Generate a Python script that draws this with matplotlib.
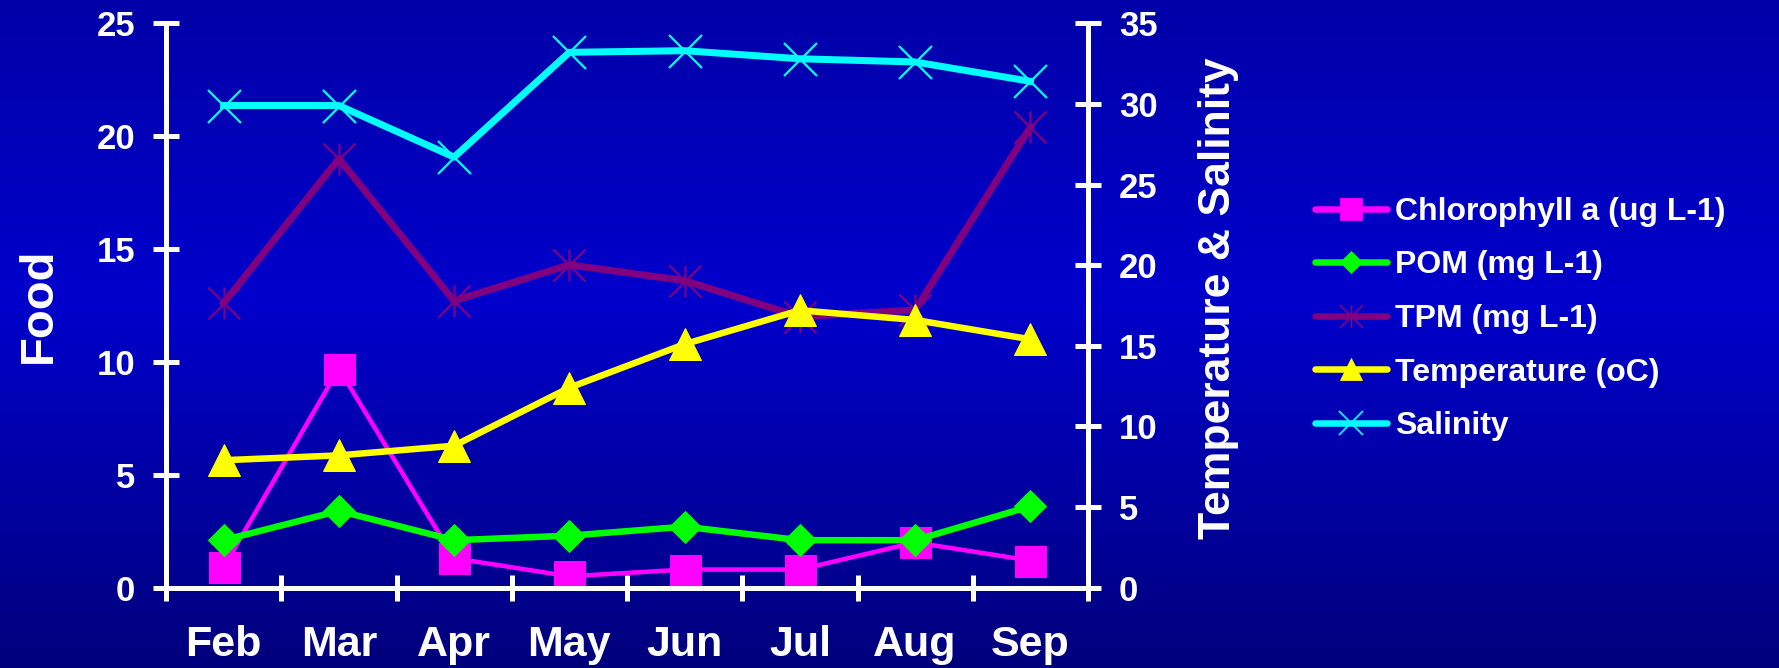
import numpy as np
import matplotlib
matplotlib.use("Agg")
import matplotlib.pyplot as plt
from matplotlib.path import Path
from matplotlib.lines import Line2D
from matplotlib.colors import LinearSegmentedColormap

plt.rcParams['font.family'] = ['Liberation Sans', 'DejaVu Sans']
plt.rcParams['font.weight'] = 'bold'

# ---- data -------------------------------------------------------------
months = ['Feb', 'Mar', 'Apr', 'May', 'Jun', 'Jul', 'Aug', 'Sep']
chlorophyll = [0.9, 9.7, 1.3, 0.5, 0.8, 0.8, 2.0, 1.2]      # ug L-1
pom = [2.1, 3.4, 2.1, 2.3, 2.7, 2.1, 2.1, 3.6]              # mg L-1
tpm = [12.6, 19.0, 12.7, 14.3, 13.6, 12.0, 12.3, 20.4]      # mg L-1
temperature = [7.9, 8.2, 8.8, 12.4, 15.1, 17.2, 16.6, 15.4]  # oC
salinity = [29.9, 29.9, 26.7, 33.2, 33.3, 32.8, 32.6, 31.4]

food_ticks = [0, 5, 10, 15, 20, 25]
env_ticks = [0, 5, 10, 15, 20, 25, 30, 35]

# ---- figure with a vertical blue gradient -------------------------------
W, H, DPI = 1779, 668, 100
fig = plt.figure(figsize=(W / DPI, H / DPI), dpi=DPI)
bg = fig.add_axes([0, 0, 1, 1], zorder=-10)
grad_cmap = LinearSegmentedColormap.from_list(
    'bg', [(0.0, '#0000a8'), (0.45, '#0000cc'), (1.0, '#00007c')])
bg.imshow(np.linspace(0, 1, 256).reshape(-1, 1), aspect='auto',
          cmap=grad_cmap, extent=[0, 1, 0, 1], origin='upper')
bg.set_axis_off()

left, right = 166 / W, 1088 / W
bottom, top = 1 - 587.6 / H, 1 - 23.3 / H
ax = fig.add_axes([left, bottom, right - left, top - bottom])
ax.set_facecolor('none')
ax2 = ax.twinx()

x = np.arange(len(months))

# Excel-style star marker: an x crossed by a vertical bar
star = Path([(-0.5, -0.5), (0.5, 0.5), (-0.5, 0.5), (0.5, -0.5), (0, -0.5), (0, 0.5)],
            [Path.MOVETO, Path.LINETO, Path.MOVETO, Path.LINETO, Path.MOVETO, Path.LINETO])

px = 72 / DPI  # points per pixel

# (label, colour, line width px, marker, marker size px, marker edge width px)
styles = [
    ('Chlorophyll a (ug L-1)', '#ff00ff', 4.5, 's', 31, 1),
    ('POM (mg L-1)', '#00ff00', 6.5, 'D', 22.5, 1),
    ('TPM (mg L-1)', '#800080', 7, star, 32, 2.2),
    ('Temperature (oC)', '#ffff00', 6.5, '^', 32, 1),
    ('Salinity', '#00ffff', 7, 'x', 33, 2.2),
]
series = [(ax, chlorophyll), (ax, pom), (ax, tpm), (ax2, temperature), (ax2, salinity)]

handles = []
for (label, col, lw, mk, ms, mew), (a, vals) in zip(styles, series):
    a.plot(x, vals, color=col, lw=lw * px, marker=mk, ms=ms * px,
           mec=col, mfc=col, mew=mew * px, label=label)
    handles.append(Line2D([], [], color=col, lw=6.5 * px, marker=mk,
                          ms=ms * 0.71 * px, mec=col, mfc=col,
                          mew=mew * 0.8 * px, solid_capstyle='round',
                          label=label))

ax.set_xlim(-0.5, len(months) - 0.5)
ax.set_ylim(0, 25)
ax2.set_ylim(0, 35)
ax.set_yticks(food_ticks)
ax2.set_yticks(env_ticks)

# month labels sit between boundary tick marks
ax.set_xticks(np.arange(-0.5, len(months)), labels=[''] * (len(months) + 1))
ax.set_xticks(x, labels=months, minor=True)

spine_w = 5 * px
tick_len = 27 * px
for a in (ax, ax2):
    for s in a.spines.values():
        s.set_visible(False)
    a.patch.set_visible(False)

ax.spines['left'].set_visible(True)
ax.spines['bottom'].set_visible(True)
ax2.spines['right'].set_visible(True)
for s in (ax.spines['left'], ax.spines['bottom'], ax2.spines['right']):
    s.set_color('white')
    s.set_linewidth(spine_w)
    s.set_capstyle('round')

ax.tick_params(axis='y', direction='inout', length=tick_len, width=spine_w,
               colors='white', labelsize=25, pad=12.5)
ax2.tick_params(axis='y', direction='inout', length=tick_len, width=spine_w,
                colors='white', labelsize=25, pad=12.5)
ax.tick_params(axis='x', which='major', direction='inout', length=tick_len,
               width=spine_w, colors='white')
ax.tick_params(axis='x', which='minor', length=0, labelsize=31,
               labelcolor='white', pad=27)
for lab in ax.get_xticklabels(minor=True) + ax.get_yticklabels() + ax2.get_yticklabels():
    lab.set_fontweight('bold')

ax.set_ylabel('Food', color='white', fontsize=34, fontweight='bold', labelpad=26)
ax2.set_ylabel('Temperature & Salinity', color='white', fontsize=32,
               fontweight='bold', labelpad=29, y=0.513)

fig.legend(handles=handles, loc='center left',
           bbox_to_anchor=(1315 / W, 1 - 319 / H), frameon=False,
           prop={'size': 23, 'weight': 'bold'}, labelcolor='white',
           handlelength=2.25, handletextpad=0.25, labelspacing=0.74,
           borderpad=0, borderaxespad=0)

fig.savefig('out.png', dpi=DPI)
